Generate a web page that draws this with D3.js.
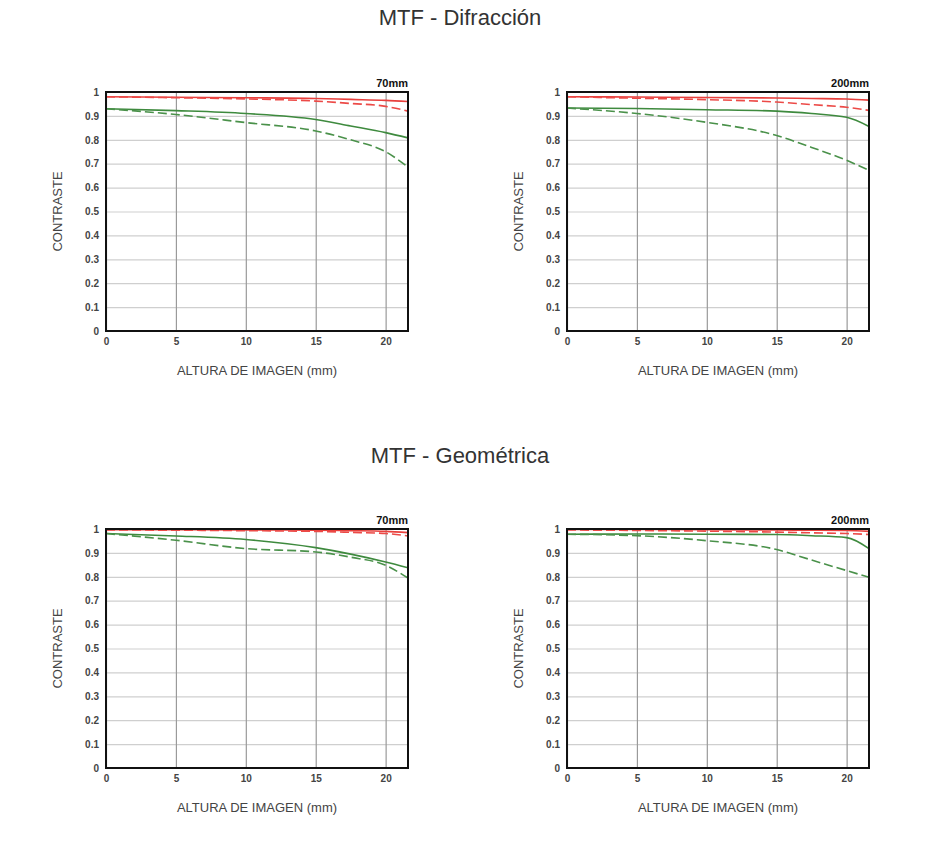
<!DOCTYPE html>
<html>
<head>
<meta charset="utf-8">
<script src="https://cdn.jsdelivr.net/npm/d3@7"></script>
<style>
  body { margin: 0; background: #fff; }
  text { font-family: "Liberation Sans", Arial, sans-serif; }
</style>
</head>
<body>
<div id="chart"></div>
<script>
// image height positions (mm)
var xPos = [0, 5, 10, 15, 17.5, 20, 21.6];
var xTicks = [0, 5, 10, 15, 20];
var yTicks = [0, 0.1, 0.2, 0.3, 0.4, 0.5, 0.6, 0.7, 0.8, 0.9, 1];
var xMax = 21.6;

// MTF - Difracción, 70mm
var dif70RedSolid   = [0.980, 0.978, 0.976, 0.973, 0.969, 0.965, 0.960];
var dif70RedDash    = [0.980, 0.976, 0.971, 0.962, 0.952, 0.940, 0.920];
var dif70GreenSolid = [0.930, 0.922, 0.910, 0.885, 0.858, 0.830, 0.808];
var dif70GreenDash  = [0.930, 0.906, 0.872, 0.837, 0.800, 0.750, 0.686];
// MTF - Difracción, 200mm
var dif200RedSolid   = [0.980, 0.979, 0.977, 0.975, 0.973, 0.971, 0.966];
var dif200RedDash    = [0.980, 0.974, 0.968, 0.958, 0.947, 0.936, 0.923];
var dif200GreenSolid = [0.933, 0.931, 0.926, 0.920, 0.910, 0.894, 0.856];
var dif200GreenDash  = [0.933, 0.910, 0.873, 0.818, 0.768, 0.714, 0.672];
// MTF - Geométrica, 70mm
var geo70RedSolid   = [0.997, 0.997, 0.996, 0.995, 0.993, 0.990, 0.985];
var geo70RedDash    = [0.996, 0.995, 0.993, 0.990, 0.986, 0.981, 0.971];
var geo70GreenSolid = [0.981, 0.971, 0.956, 0.922, 0.895, 0.862, 0.838];
var geo70GreenDash  = [0.981, 0.953, 0.918, 0.904, 0.882, 0.848, 0.795];
// MTF - Geométrica, 200mm
var geo200RedSolid   = [0.998, 0.998, 0.997, 0.996, 0.995, 0.994, 0.990];
var geo200RedDash    = [0.996, 0.994, 0.991, 0.987, 0.984, 0.981, 0.977];
var geo200GreenSolid = [0.978, 0.979, 0.978, 0.977, 0.972, 0.964, 0.918];
var geo200GreenDash  = [0.978, 0.972, 0.951, 0.914, 0.870, 0.826, 0.798];

var titles = ["MTF - Difracción", "MTF - Geométrica"];
var focal = ["70mm", "200mm"];

var charts = [
  {focal: focal[0], left: 106, top: 92, series: [dif70RedSolid, dif70RedDash, dif70GreenSolid, dif70GreenDash]},
  {focal: focal[1], left: 567, top: 92, series: [dif200RedSolid, dif200RedDash, dif200GreenSolid, dif200GreenDash]},
  {focal: focal[0], left: 106, top: 529, series: [geo70RedSolid, geo70RedDash, geo70GreenSolid, geo70GreenDash]},
  {focal: focal[1], left: 567, top: 529, series: [geo200RedSolid, geo200RedDash, geo200GreenSolid, geo200GreenDash]}
];

var lineStyles = [
  {color: "#e8403d", dash: null},
  {color: "#ec4a47", dash: "9,4"},
  {color: "#3e8a3e", dash: null},
  {color: "#4a914a", dash: "9,4"}
];

var W = 937, H = 862, pw = 302, ph = 239;

var svg = d3.select("#chart").append("svg")
    .attr("width", W)
    .attr("height", H);

svg.append("text")
    .attr("x", 460).attr("y", 25)
    .attr("text-anchor", "middle")
    .attr("font-size", "22px")
    .attr("fill", "#333")
    .text(titles[0]);

svg.append("text")
    .attr("x", 460).attr("y", 463)
    .attr("text-anchor", "middle")
    .attr("font-size", "22px")
    .attr("fill", "#333")
    .text(titles[1]);

var x = d3.scaleLinear().domain([0, xMax]).range([0, pw]);
var y = d3.scaleLinear().domain([0, 1]).range([ph, 0]);

var line = d3.line()
    .x(function(d) { return x(d[0]); })
    .y(function(d) { return y(d[1]); })
    .curve(d3.curveMonotoneX);

charts.forEach(function(c) {
  var g = svg.append("g").attr("transform", "translate(" + c.left + "," + c.top + ")");

  // horizontal grid
  g.append("g")
      .call(d3.axisLeft(y).tickValues(yTicks).tickSize(-pw).tickFormat(""))
      .call(function(a) {
        a.select(".domain").remove();
        a.selectAll("line").attr("stroke", "#cfcfcf").attr("stroke-width", 1.2);
      });

  // vertical grid
  g.append("g")
      .attr("transform", "translate(0," + ph + ")")
      .call(d3.axisBottom(x).tickValues(xTicks).tickSize(-ph).tickFormat(""))
      .call(function(a) {
        a.select(".domain").remove();
        a.selectAll("line").attr("stroke", "#9a9a9a").attr("stroke-width", 1.2);
      });

  // lines
  c.series.forEach(function(vals, i) {
    var pts = xPos.map(function(xv, j) { return [xv, vals[j]]; });
    g.append("path")
        .datum(pts)
        .attr("fill", "none")
        .attr("stroke", lineStyles[i].color)
        .attr("stroke-width", 1.6)
        .attr("stroke-dasharray", lineStyles[i].dash)
        .attr("d", line);
  });

  // frame
  g.append("rect")
      .attr("x", 0).attr("y", 0)
      .attr("width", pw).attr("height", ph)
      .attr("fill", "none")
      .attr("stroke", "#111")
      .attr("stroke-width", 2);

  // y tick labels
  g.append("g")
      .call(d3.axisLeft(y).tickValues(yTicks).tickSize(0).tickPadding(7)
        .tickFormat(function(d) { return d === 0 || d === 1 ? d3.format("d")(d) : d3.format(".1f")(d); }))
      .call(function(a) {
        a.select(".domain").remove();
        a.selectAll("text")
          .attr("font-family", "Roboto, 'Liberation Sans', sans-serif")
          .attr("font-size", "10px")
          .attr("font-weight", "bold")
          .attr("fill", "#444");
      });

  // x tick labels
  g.append("g")
      .attr("transform", "translate(0," + ph + ")")
      .call(d3.axisBottom(x).tickValues(xTicks).tickSize(0).tickPadding(7).tickFormat(d3.format("d")))
      .call(function(a) {
        a.select(".domain").remove();
        a.selectAll("text")
          .attr("font-family", "Roboto, 'Liberation Sans', sans-serif")
          .attr("font-size", "10px")
          .attr("font-weight", "bold")
          .attr("fill", "#444");
      });

  // focal length label
  g.append("text")
      .attr("x", pw).attr("y", -5)
      .attr("text-anchor", "end")
      .attr("font-family", "Roboto, 'Liberation Sans', sans-serif")
      .attr("font-size", "11px")
      .attr("font-weight", "bold")
      .attr("fill", "#111")
      .text(c.focal);

  // axis titles
  g.append("text")
      .attr("transform", "translate(-49," + (ph / 2) + ") rotate(-90)")
      .attr("text-anchor", "middle")
      .attr("dy", "0.35em")
      .attr("font-size", "13px")
      .attr("fill", "#444")
      .text("CONTRASTE");

  g.append("text")
      .attr("x", pw / 2).attr("y", ph + 44)
      .attr("text-anchor", "middle")
      .attr("font-size", "13px")
      .attr("fill", "#444")
      .text("ALTURA DE IMAGEN (mm)");
});
</script>
</body>
</html>
